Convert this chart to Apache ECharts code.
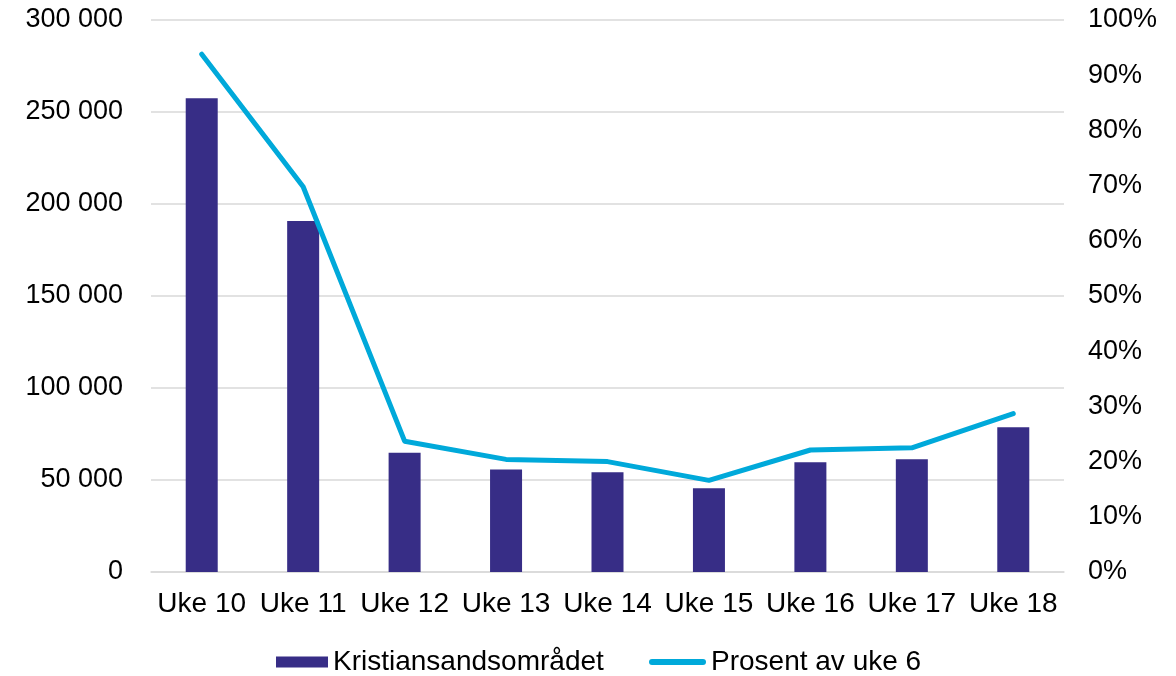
<!DOCTYPE html>
<html>
<head>
<meta charset="utf-8">
<script src="https://cdn.jsdelivr.net/npm/echarts@6/dist/echarts.min.js"></script>
<style>
html,body{margin:0;padding:0;background:#fff;}
#c{width:1176px;height:676px;}
</style>
</head>
<body>
<div id="c"></div>
<script>
const categories = ['Uke 10','Uke 11','Uke 12','Uke 13','Uke 14','Uke 15','Uke 16','Uke 17','Uke 18'];
const barValues = [257500, 190800, 64800, 55700, 54200, 45500, 59700, 61300, 78700];
const pctValues = [93.8, 69.8, 23.7, 20.4, 20.0, 16.6, 22.1, 22.5, 28.7];
const barName = 'Kristiansandsområdet';
const lineName = 'Prosent av uke 6';

const font = '"Liberation Sans", Arial, sans-serif';
const chart = echarts.init(document.getElementById('c'));
chart.setOption({
  animation: false,
  backgroundColor: '#fff',
  textStyle: { fontFamily: font },
  grid: { left: 151, right: 112, top: 20, bottom: 104, containLabel: false },
  legend: [
    {
      data: [barName], left: 271, top: 643,
      itemWidth: 52, itemHeight: 11, icon: 'rect',
      textStyle: { fontFamily: font, fontSize: 28, color: '#000' }
    },
    {
      data: [{ name: lineName, icon: 'path://M3,0 L54,0 A3,3 0 0 1 54,6 L3,6 A3,3 0 0 1 3,0 Z' }],
      left: 644, top: 643,
      itemWidth: 57, itemHeight: 6,
      textStyle: { fontFamily: font, fontSize: 28, color: '#000' }
    }
  ],
  xAxis: {
    type: 'category', data: categories,
    axisLine: { lineStyle: { color: '#d9d9d9', width: 1.5 } },
    axisTick: { show: false },
    axisLabel: { color: '#000', fontSize: 28, fontFamily: font, margin: 18, interval: 0 }
  },
  yAxis: [
    {
      type: 'value', min: 0, max: 300000, interval: 50000,
      axisLine: { show: false }, axisTick: { show: false },
      splitLine: { lineStyle: { color: '#d9d9d9', width: 1.5 } },
      axisLabel: {
        color: '#000', fontSize: 27, fontFamily: font, margin: 28,
        formatter: v => v === 0 ? '0' : String(v).replace(/\B(?=(\d{3})+(?!\d))/g, ' ')
      }
    },
    {
      type: 'value', min: 0, max: 100, interval: 10, position: 'right',
      axisLine: { show: false }, axisTick: { show: false }, splitLine: { show: false },
      axisLabel: { color: '#000', fontSize: 27, fontFamily: font, margin: 24, formatter: '{value}%' }
    }
  ],
  series: [
    {
      name: barName, type: 'bar', data: barValues, barWidth: 32,
      itemStyle: { color: '#372d86' }
    },
    {
      name: lineName, type: 'line', yAxisIndex: 1, data: pctValues,
      symbol: 'none', lineStyle: { color: '#00a9da', width: 5, cap: 'round', join: 'round' },
      itemStyle: { color: '#00a9da' }
    }
  ]
});
</script>
</body>
</html>
